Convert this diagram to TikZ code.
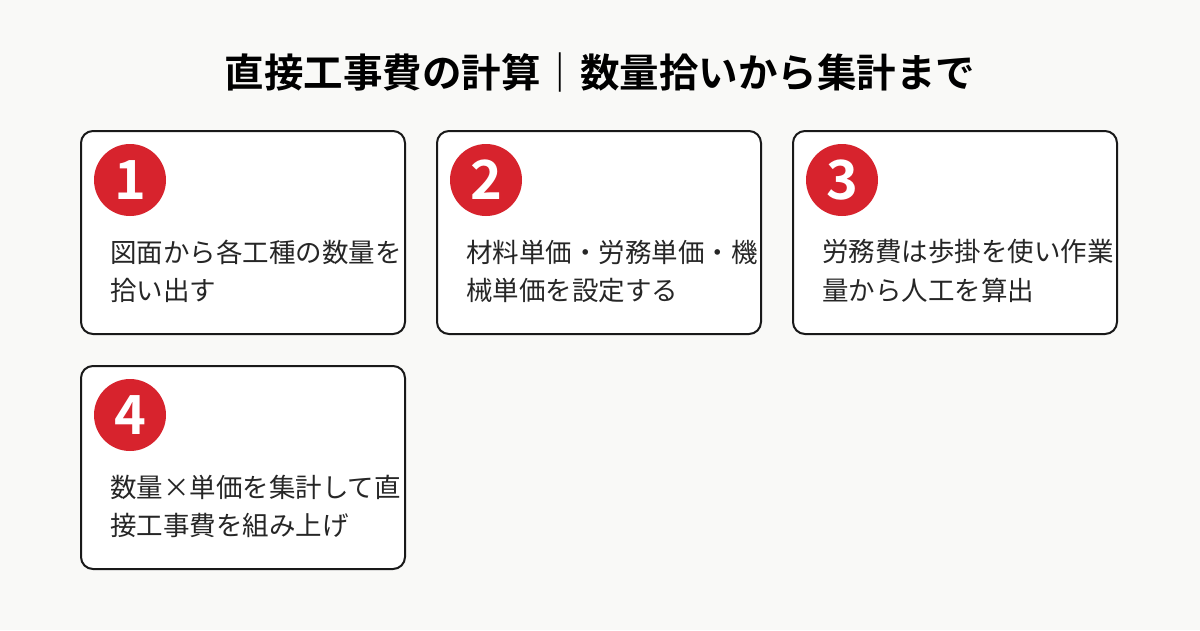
\documentclass[tikz,border=0pt]{standalone}
\usepackage{fontspec}
\setmainfont{Noto Sans CJK JP}
\newfontfamily\jpbold{Noto Sans CJK JP Bold}
\definecolor{pagebg}{RGB}{249,249,247}
\definecolor{badgered}{RGB}{215,35,45}
\tikzset{
  card/.style={draw=black!90, line width=2pt, rounded corners=12pt, fill=white},
  badge/.style={circle, fill=badgered, minimum size=72pt, inner sep=0pt,
    text=white, font=\jpbold\fontsize{54}{54}\selectfont},
  steptext/.style={anchor=west, inner sep=0pt, align=left,
    font=\fontsize{26.5}{38}\selectfont, text=black!85}
}
\begin{document}
\begin{tikzpicture}[x=1pt,y=-1pt]
    % Background
    \fill[pagebg] (0,0) rectangle (1200,630);
    \useasboundingbox (0,0) rectangle (1200,630);
    % Title
    \node[font=\jpbold\fontsize{39.5}{40}\selectfont] (title) at (600,72)
      {直接工事費の計算｜数量拾いから集計まで};

    % Cards
    \foreach \n/\x/\y/\la/\lb in {
      1/81/131/図面から各工種の数量を/拾い出す,
      2/437/131/材料単価・労務単価・機/械単価を設定する,
      3/793/131/労務費は歩掛を使い作業/量から人工を算出,
      4/81/366/数量×単価を集計して直/接工事費を組み上げ}
    {
      \draw[card] (\x,\y) rectangle ++(324,203);
      \node[badge] (badge\n) at (\x+49,\y+49) {\n};
      \node[steptext] (texta\n) at (\x+29,\y+121) {\la};
      \node[steptext] (textb\n) at (\x+29,\y+159) {\lb};
    }
\end{tikzpicture}
\end{document}
